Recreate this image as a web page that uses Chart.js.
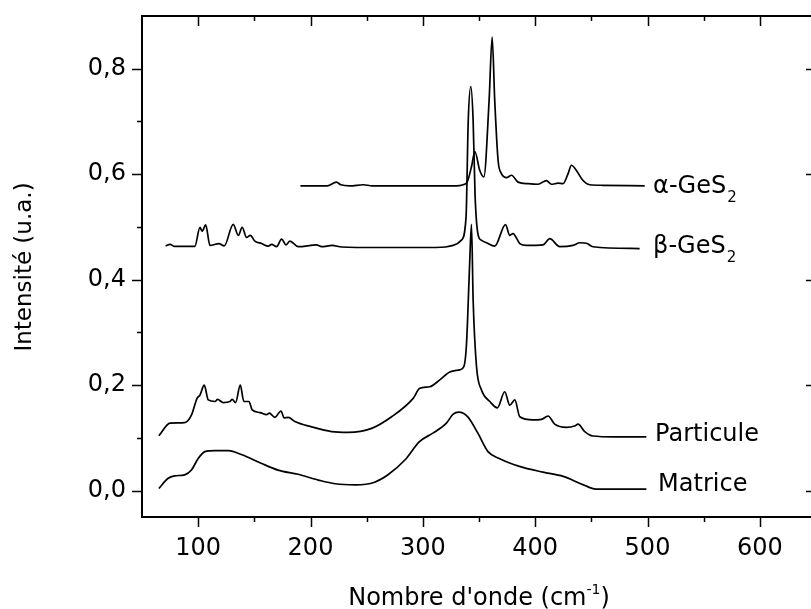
<!DOCTYPE html>
<html>
<head>
<meta charset="utf-8">
<script src="https://cdn.jsdelivr.net/npm/chart.js@4.4.1/dist/chart.umd.min.js"></script>
<style>
  html, body { margin: 0; padding: 0; background: #fff; overflow: hidden; }
  canvas { display: block; }
</style>
</head>
<body>
<canvas id="myChart" width="817" height="609"></canvas>
<script>
// Axes
const xTicks = [100, 200, 300, 400, 500, 600];
const xMinorTicks = [150, 250, 350, 450, 550];
const yTicks = [0, 0.2, 0.4, 0.6, 0.8];
const yMinorTicks = [0.1, 0.3, 0.5, 0.7];

// Spectres (nombre d'onde en cm-1, intensité en u.a.)
const matriceX = [65, 73, 79, 88, 94, 100, 106, 115, 127, 139, 156, 171, 189, 207, 222, 240, 257, 269, 284, 297,
  309, 321, 327, 332, 340, 349, 358, 368, 386, 407, 425, 443, 454, 470, 499];
const matriceY = [0.004, 0.023, 0.028, 0.030, 0.039, 0.061, 0.074, 0.076, 0.076, 0.068, 0.052, 0.039, 0.031, 0.020, 0.013, 0.011, 0.016, 0.030, 0.058, 0.093,
  0.109, 0.128, 0.145, 0.149, 0.140, 0.109, 0.074, 0.061, 0.046, 0.035, 0.027, 0.011, 0.003, 0.003, 0.003];

const particuleX = [65, 75, 88, 94, 99, 101.6, 105.4, 109, 115, 117.3, 122.3, 128.3, 130.3, 133.3, 137.5, 140.7, 145.2, 148.1, 155, 160.9,
  163.3, 168.3, 173.7, 176.6, 180.2, 186.1, 201, 218.8, 233.5, 254.4, 272.2, 291.4, 297.3, 306.2, 315.1, 324, 332.9, 336.5, 338.9, 341.5,
  343.3, 344.8, 347.8, 352.2, 359.6, 366.4, 372.9, 377.4, 381.9, 386.3, 398.1, 405.6, 411.5, 417.4, 427.8, 435.2, 438.2, 444.1, 451.5, 470, 499];
const particuleY = [0.104, 0.128, 0.129, 0.143, 0.175, 0.181, 0.200, 0.172, 0.169, 0.173, 0.167, 0.169, 0.173, 0.167, 0.200, 0.169, 0.169, 0.153, 0.148, 0.144,
  0.147, 0.139, 0.151, 0.138, 0.139, 0.131, 0.121, 0.112, 0.1105, 0.118, 0.140, 0.175, 0.194, 0.197, 0.210, 0.225, 0.229, 0.235, 0.279, 0.42,
  0.505, 0.36, 0.235, 0.191, 0.169, 0.157, 0.1875, 0.162, 0.172, 0.140, 0.134, 0.135, 0.1415, 0.126, 0.120, 0.1225, 0.126, 0.112, 0.1036, 0.102, 0.102];

const betaX = [71, 75, 79, 97, 101.6, 103.6, 106.7, 110.5, 118.5, 123.2, 131.2, 135.7, 139.2, 143.1, 146.4, 150.5, 156.5, 162.4, 165.4, 169.8,
  174.3, 178.1, 181.7, 189.1, 205.4, 209.9, 219.3, 227.7, 260, 300, 320, 327, 334.4, 338.5, 340.4, 342.7, 344.8, 346.5, 349.2, 352,
  356.7, 364, 373.6, 377.4, 380.3, 386.3, 392.3, 407, 413, 421.9, 433.7, 439.7, 445.6, 451.5, 493];
const betaY = [0.464, 0.467, 0.463, 0.463, 0.499, 0.492, 0.504, 0.465, 0.4685, 0.464, 0.505, 0.484, 0.499, 0.480, 0.484, 0.473, 0.4685, 0.4635, 0.467, 0.4625,
  0.477, 0.466, 0.473, 0.4625, 0.466, 0.4625, 0.465, 0.462, 0.461, 0.461, 0.462, 0.465, 0.475, 0.52, 0.70, 0.766, 0.70, 0.56, 0.485, 0.475,
  0.470, 0.4635, 0.5045, 0.484, 0.4875, 0.4685, 0.465, 0.466, 0.478, 0.4625, 0.465, 0.470, 0.469, 0.4625, 0.459];

const alphaX = [191, 215, 223, 227, 235, 247, 255, 300, 330, 338.9, 343.3, 346.3, 350.7, 354.3, 359, 361.7, 364, 367, 370, 374.5,
  378.9, 384.8, 393.7, 402.6, 410, 414.5, 420.4, 424.8, 429.3, 432.3, 436.7, 442.6, 448.6, 460, 497.5];
const alphaY = [0.578, 0.578, 0.585, 0.580, 0.578, 0.580, 0.578, 0.578, 0.578, 0.583, 0.614, 0.643, 0.607, 0.595, 0.74, 0.86, 0.74, 0.626, 0.601, 0.5935,
  0.598, 0.585, 0.582, 0.581, 0.588, 0.581, 0.583, 0.582, 0.601, 0.617, 0.607, 0.588, 0.580, 0.579, 0.578];

const FONT = 'DejaVu Sans';
const AXIS_LEFT = 142; // position du cadre à gauche (px)

function toPoints(xs, ys) {
  return xs.map((v, i) => ({ x: v, y: ys[i] }));
}

function serie(label, xs, ys) {
  return {
    label: label,
    data: toPoints(xs, ys),
    borderColor: '#000',
    borderWidth: 1.7,
    pointRadius: 0,
    fill: false,
    cubicInterpolationMode: 'monotone'
  };
}

// Cadre + graduations (majeures et mineures, sur les 4 côtés)
const framePlugin = {
  id: 'frame',
  afterDraw(chart) {
    const { ctx, chartArea: a, scales: { x, y } } = chart;
    ctx.save();
    ctx.strokeStyle = '#000';
    ctx.lineWidth = 2;
    ctx.strokeRect(a.left, a.top, a.right - a.left, a.bottom - a.top);
    ctx.lineWidth = 1.5;
    ctx.beginPath();
    const tickX = (v, len) => {
      const p = Math.round(x.getPixelForValue(v)) + 0.5;
      ctx.moveTo(p, a.bottom); ctx.lineTo(p, a.bottom + len);
      ctx.moveTo(p, a.top); ctx.lineTo(p, a.top + len);
    };
    const tickY = (v, len) => {
      const p = Math.round(y.getPixelForValue(v)) + 0.5;
      ctx.moveTo(a.left, p); ctx.lineTo(a.left - len, p);
      ctx.moveTo(a.right, p); ctx.lineTo(a.right - len, p);
    };
    xTicks.forEach(v => tickX(v, 10));
    xMinorTicks.forEach(v => tickX(v, 5));
    yTicks.forEach(v => tickY(v, 10));
    yMinorTicks.forEach(v => tickY(v, 5));
    ctx.stroke();
    ctx.restore();
  }
};

// Textes : étiquettes des courbes et titres des axes
function drawLabel(ctx, x0, y0, main, sub) {
  ctx.font = '24px "' + FONT + '"';
  ctx.textAlign = 'left';
  ctx.textBaseline = 'alphabetic';
  ctx.fillText(main, x0, y0);
  if (sub) {
    const w = ctx.measureText(main).width;
    ctx.font = '15px "' + FONT + '"';
    ctx.fillText(sub, x0 + w + 1, y0 + 9);
  }
}

const textPlugin = {
  id: 'texts',
  afterDraw(chart) {
    const { ctx, scales: { x, y } } = chart;
    ctx.save();
    ctx.fillStyle = '#000';
    const lx = x.getPixelForValue(505);
    drawLabel(ctx, lx, y.getPixelForValue(0.564), 'α-GeS', '2');
    drawLabel(ctx, lx, y.getPixelForValue(0.451), 'β-GeS', '2');
    drawLabel(ctx, lx + 2, y.getPixelForValue(0.095), 'Particule');
    drawLabel(ctx, lx + 5, y.getPixelForValue(0.0), 'Matrice');

    // titre axe x avec exposant
    const big = '24px "' + FONT + '"';
    const small = '14px "' + FONT + '"';
    const t1 = "Nombre d'onde (cm", t2 = '-1', t3 = ')';
    ctx.font = big; const w1 = ctx.measureText(t1).width; const w3 = ctx.measureText(t3).width;
    ctx.font = small; const w2 = ctx.measureText(t2).width;
    let px = 479 - (w1 + w2 + w3) / 2;
    const base = 605;
    ctx.textBaseline = 'alphabetic';
    ctx.textAlign = 'left';
    ctx.font = big; ctx.fillText(t1, px, base); px += w1;
    ctx.font = small; ctx.fillText(t2, px, base - 11); px += w2;
    ctx.font = big; ctx.fillText(t3, px, base);

    // titre axe y
    ctx.translate(31, 267);
    ctx.rotate(-Math.PI / 2);
    ctx.textAlign = 'center';
    ctx.font = '23px "' + FONT + '"';
    ctx.fillText('Intensité (u.a.)', 0, 0);
    ctx.restore();
  }
};

document.addEventListener('DOMContentLoaded', () => {
  const ctx = document.getElementById('myChart').getContext('2d');
  const chart = new Chart(ctx, {
    type: 'line',
    data: {
      datasets: [
        serie('Matrice', matriceX, matriceY),
        serie('Particule', particuleX, particuleY),
        serie('β-GeS2', betaX, betaY),
        serie('α-GeS2', alphaX, alphaY)
      ]
    },
    options: {
      responsive: false,
      animation: false,
      devicePixelRatio: 1,
      layout: { padding: { left: 0, right: 1, top: 16, bottom: 0 } },
      plugins: { legend: { display: false }, tooltip: { enabled: false } },
      scales: {
        x: {
          type: 'linear',
          min: 50,
          max: 650,
          grid: { display: false, drawTicks: false },
          border: { display: false },
          afterBuildTicks: s => { s.ticks = xTicks.map(v => ({ value: v })); },
          afterFit: s => { s.height = 92; },
          ticks: {
            color: '#000',
            padding: 17,
            maxRotation: 0,
            font: { family: FONT, size: 24 },
            callback: v => String(v)
          }
        },
        y: {
          type: 'linear',
          min: -0.05,
          max: 0.9,
          grid: { display: false, drawTicks: false },
          border: { display: false },
          afterBuildTicks: s => { s.ticks = yTicks.map(v => ({ value: v })); },
          afterFit: s => { s.width = AXIS_LEFT; s.paddingTop = 0; s.paddingBottom = 0; },
          ticks: {
            color: '#000',
            padding: 16,
            font: { family: FONT, size: 24 },
            callback: v => v.toFixed(1).replace('.', ',')
          }
        }
      }
    },
    plugins: [framePlugin, textPlugin]
  });

  // au cas où la mise en page décale le cadre
  const dl = AXIS_LEFT - chart.chartArea.left;
  if (Math.abs(dl) > 0.5) {
    chart.options.layout.padding.left += dl;
    chart.update();
  }
});
</script>
</body>
</html>
